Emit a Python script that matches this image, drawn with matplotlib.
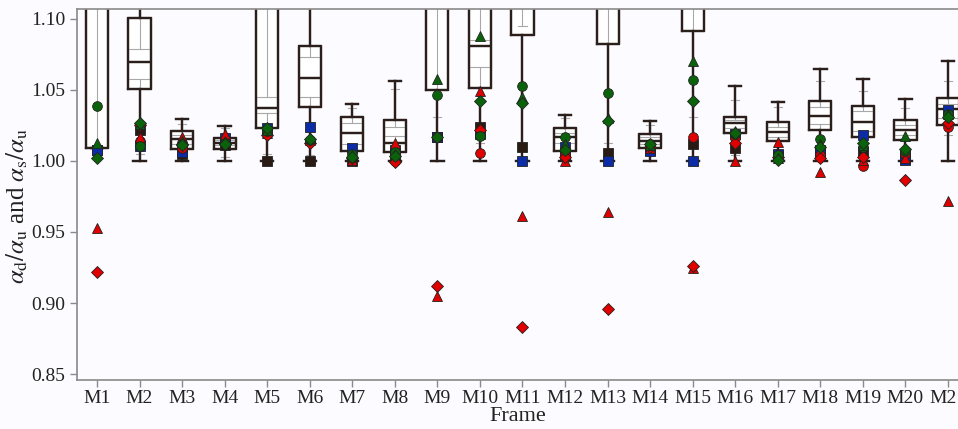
import numpy as np
import matplotlib
matplotlib.use("Agg")
import matplotlib.pyplot as plt

# Frames
frames = ["M%d" % i for i in range(1, 22)]

# Black box statistics (values above 1.107 are off the chart)
box_lo = [1.009, 1.000, 1.000, 1.000, 1.000, 1.000, 1.000, 1.000, 1.000, 1.000, 1.000,
          1.000, 1.000, 1.000, 1.000, 1.000, 1.000, 1.000, 1.000, 1.000, 1.000]
box_q1 = [1.009, 1.0505, 1.0087, 1.0087, 1.023, 1.038, 1.0073, 1.0066, 1.050, 1.0516, 1.089,
          1.0073, 1.0824, 1.0092, 1.0918, 1.020, 1.0139, 1.0218, 1.0167, 1.0148, 1.0256]
box_med = [1.20, 1.070, 1.0155, 1.0127, 1.037, 1.0587, 1.0195, 1.0129, 1.15, 1.081, 1.20,
           1.0167, 1.20, 1.0143, 1.20, 1.0265, 1.0204, 1.0317, 1.0275, 1.0216, 1.0364]
box_q3 = [1.30, 1.101, 1.021, 1.0164, 1.20, 1.0808, 1.031, 1.029, 1.25, 1.12, 1.30,
          1.023, 1.30, 1.0188, 1.30, 1.0312, 1.0272, 1.042, 1.039, 1.029, 1.044]
box_hi = [1.40, 1.20, 1.0296, 1.0246, 1.30, 1.15, 1.040, 1.0566, 1.30, 1.20, 1.40,
          1.0324, 1.40, 1.028, 1.40, 1.0528, 1.0415, 1.0646, 1.0575, 1.0439, 1.0704]

# Grey inner box statistics
grey_lo = [1.010, 1.005, 1.003, 1.003, 1.005, 1.004, 1.003, 1.003, 1.031, 1.013, 1.095,
           1.004, 1.013, 1.004, 1.031, 1.004, 1.004, 1.004, 1.004, 1.004, 1.018]
grey_q1 = [1.13, 1.058, 1.012, 1.011, 1.034, 1.045, 1.012, 1.0177, 1.13, 1.066, 1.13,
           1.013, 1.12, 1.012, 1.13, 1.023, 1.017, 1.026, 1.021, 1.018, 1.030]
grey_q3 = [1.20, 1.079, 1.018, 1.015, 1.045, 1.073, 1.027, 1.024, 1.20, 1.085, 1.20,
           1.020, 1.20, 1.017, 1.20, 1.029, 1.024, 1.038, 1.035, 1.025, 1.040]
grey_hi = [1.30, 1.12, 1.026, 1.023, 1.13, 1.12, 1.037, 1.051, 1.30, 1.11, 1.30,
           1.030, 1.30, 1.025, 1.30, 1.043, 1.038, 1.056, 1.0495, 1.037, 1.056]

nan = np.nan
# Point series
blk_sq = [1.008, 1.022, 1.005, 1.011, 1.000, 1.000, 1.000, 1.005, 1.017, 1.024, 1.010,
          1.004, 1.0056, 1.008, 1.012, 1.009, 1.004, 1.008, 1.006, 1.004, nan]
blue_sq = [1.0077, 1.0105, 1.006, 1.016, 1.023, 1.024, 1.0094, 1.008, 1.017, 1.019, 1.000,
           1.010, 1.000, 1.007, 1.000, 1.019, 1.005, 1.005, 1.0183, 1.001, 1.036]
red_ci = [nan, 1.014, 1.009, 1.013, 1.020, 1.014, 1.002, 1.000, 1.017, 1.0054, nan,
          1.005, nan, 1.010, 1.0167, 1.016, 1.004, 1.004, 0.9967, 1.005, 1.0237]
red_tr = [0.953, 1.017, 1.017, 1.019, 1.020, 1.015, 1.001, 1.013, 0.905, 1.049, 0.961,
          1.000, 0.964, 1.009, 0.925, 1.000, 1.0136, 0.992, 1.001, 1.002, 0.9718]
red_di = [0.922, 1.025, 1.012, 1.012, 1.018, 1.013, 1.002, 0.9993, 0.912, 1.022, 0.883,
          1.003, 0.896, 1.010, 0.926, 1.013, 1.003, 1.0023, 1.0026, 0.9866, 1.027]
grn_ci = [1.039, 1.0105, 1.012, 1.013, 1.021, 1.015, 1.005, 1.006, 1.0465, 1.0176, 1.053,
          1.017, 1.048, 1.012, 1.0573, 1.019, 1.004, 1.0153, 1.010, 1.007, 1.033]
grn_tr = [1.0127, 1.026, 1.014, 1.014, 1.022, 1.016, 1.004, 1.005, 1.058, 1.088, 1.045,
          1.012, 1.030, 1.011, 1.0704, 1.021, 1.002, 1.012, 1.011, 1.0176, 1.033]
grn_di = [1.002, 1.027, 1.011, 1.012, 1.023, 1.0155, 1.003, 1.0035, 1.017, 1.0425, 1.0406,
          1.0077, 1.0284, 1.012, 1.0425, 1.020, 1.001, 1.0096, 1.0124, 1.0085, 1.031]

# Style
plt.rcParams['font.family'] = ['Liberation Serif', 'DejaVu Serif']
plt.rcParams['mathtext.fontset'] = 'stix'

BG = '#fcfbff'
EDGE = '#2b1f1c'
GREY = '#a8a8a8'
SPINE = '#8a8a8a'

positions = np.arange(1, len(frames) + 1)

black_stats = [dict(whislo=a, q1=b, med=c, q3=d, whishi=e, fliers=[])
               for a, b, c, d, e in zip(box_lo, box_q1, box_med, box_q3, box_hi)]
grey_stats = [dict(whislo=a, q1=b, med=b, q3=d, whishi=e, fliers=[])
              for a, b, d, e in zip(grey_lo, grey_q1, grey_q3, grey_hi)]

fig = plt.figure(figsize=(9.58, 4.29), dpi=100, facecolor=BG)
ax = fig.add_axes([77 / 958, 49 / 429, 881 / 958, 371 / 429], facecolor=BG)

# White filled boxes
ax.bxp(black_stats, positions=positions, widths=0.52, patch_artist=True,
       boxprops=dict(facecolor='white', edgecolor=EDGE, linewidth=1.6),
       whiskerprops=dict(color=EDGE, linewidth=1.6),
       capprops=dict(color=EDGE, linewidth=1.6),
       medianprops=dict(color=EDGE, linewidth=1.6),
       capwidths=0.29, manage_ticks=False, zorder=2)
# Thin grey inner boxes
ax.bxp(grey_stats, positions=positions, widths=0.52,
       boxprops=dict(color=GREY, linewidth=0.8),
       whiskerprops=dict(color=GREY, linewidth=0.8),
       capprops=dict(color=GREY, linewidth=0.8),
       medianprops=dict(linewidth=0),
       capwidths=0.19, manage_ticks=False, zorder=2.3)
# Black outlines on top
ax.bxp(black_stats, positions=positions, widths=0.52,
       boxprops=dict(color=EDGE, linewidth=1.6),
       whiskerprops=dict(color=EDGE, linewidth=1.6),
       capprops=dict(color=EDGE, linewidth=1.6),
       medianprops=dict(color=EDGE, linewidth=1.6),
       capwidths=0.29, manage_ticks=False, zorder=2.5)

# Points
series = [
    (blk_sq, 's', '#2a1a14'),
    (blue_sq, 's', '#0b2ca6'),
    (red_ci, 'o', '#e00000'),
    (red_tr, '^', '#e00000'),
    (red_di, 'D', '#e00000'),
    (grn_ci, 'o', '#0a620a'),
    (grn_tr, '^', '#0a620a'),
    (grn_di, 'D', '#0a620a'),
]
for vals, mk, col in series:
    ms = 6.2 if mk == 'D' else 7
    ax.plot(positions, vals, linestyle='none', marker=mk, markersize=ms,
            markerfacecolor=col, markeredgecolor='#222222', markeredgewidth=0.6,
            zorder=4, clip_on=True)

ax.set_xlim(0.53, 21.235)
ax.set_ylim(0.8458, 1.107)
ax.set_xticks(positions)
ax.set_xticklabels(frames)
ax.set_yticks([0.85, 0.90, 0.95, 1.00, 1.05, 1.10])
ax.set_yticklabels(['0.85', '0.90', '0.95', '1.00', '1.05', '1.10'])
ax.tick_params(axis='both', labelsize=14, colors=SPINE, labelcolor='#222222',
               direction='out', length=5, width=1)
ax.tick_params(axis='x', pad=2)

for side in ['left', 'bottom', 'top']:
    ax.spines[side].set_color(SPINE)
    ax.spines[side].set_linewidth(1.2)
ax.spines['right'].set_visible(False)

ax.set_xlabel('Frame', fontsize=16, color='#222222', labelpad=0)
ax.set_ylabel(r'$\alpha_{\mathrm{d}}/\alpha_{\mathrm{u}}$ and $\alpha_{\mathrm{s}}/\alpha_{\mathrm{u}}$',
              fontsize=18, color='#222222')
ax.yaxis.set_label_coords(-0.053, 0.47)

fig.savefig('out.png', dpi=100, facecolor=BG)
